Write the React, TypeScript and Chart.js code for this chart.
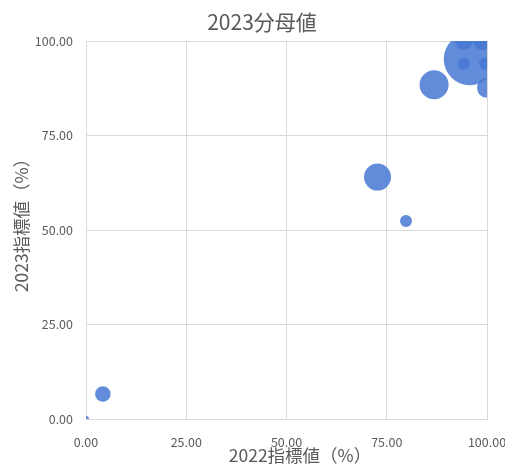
import React, { useEffect, useRef } from "react";
import { Chart, registerables } from "chart.js";

Chart.register(...registerables);

const chartTitle = "2023分母値";
const xAxisTitle = "2022指標値（%）";
const yAxisTitle = "2023指標値（%）";

// 2022 indicator value (%)
const xValues = [0, 4.2, 72.7, 79.8, 86.8, 95.7, 94.2, 99.5, 100, 94.2, 98.8];
// 2023 indicator value (%)
const yValues = [0, 6.6, 64, 52.4, 88.4, 95.2, 94, 94, 87.6, 100, 100];
// bubble radius (px) representing 2023 denominator
const bubbleRadii = [3, 7.8, 13.5, 6, 14.5, 26, 6, 6, 10, 9, 9];

const axisTicks = [0, 25, 50, 75, 100];

const FONT = "'Noto Sans CJK JP', 'Noto Sans', sans-serif";
const TEXT = "#595959";
const GRID = "#d9d9d9";

const titlesPlugin = {
  id: "customTitles",
  afterDraw(chart: any) {
    const { ctx } = chart;
    ctx.save();
    ctx.fillStyle = TEXT;
    ctx.textAlign = "center";
    ctx.textBaseline = "middle";
    ctx.font = `21px ${FONT}`;
    ctx.fillText(chartTitle, 262, 22);
    ctx.font = `17.5px ${FONT}`;
    ctx.fillText(xAxisTitle, 300, 455);
    ctx.translate(21, 221);
    ctx.rotate(-Math.PI / 2);
    ctx.fillText(yAxisTitle, 0, 0);
    ctx.restore();
  },
};

export default function App() {
  const ref = useRef<HTMLCanvasElement>(null);
  useEffect(() => {
    if (!ref.current) return;
    const points = xValues.map((x, i) => ({ x, y: yValues[i], r: bubbleRadii[i] }));
    const chart = new Chart(ref.current, {
      type: "bubble",
      data: {
        datasets: [
          {
            label: chartTitle,
            data: points,
            backgroundColor: "rgba(70,120,212,0.85)",
            borderWidth: 0,
          },
        ],
      },
      options: {
        responsive: false,
        animation: false,
        layout: { autoPadding: false, padding: { top: 41, right: 0, left: 0, bottom: 0 } },
        plugins: {
          legend: { display: false },
          title: { display: false },
          tooltip: { enabled: false },
        },
        scales: {
          x: {
            type: "linear",
            min: 0,
            max: 100,
            afterFit: (s: any) => {
              s.height = 45;
              s.paddingRight = 18;
              s.paddingLeft = 0;
            },
            afterBuildTicks: (s: any) => {
              s.ticks = axisTicks.map((v) => ({ value: v }));
            },
            ticks: {
              color: TEXT,
              font: { family: FONT, size: 12.5 },
              padding: 16,
              maxRotation: 0,
              callback: (v: any) => Number(v).toFixed(2),
            },
            grid: { color: GRID, drawTicks: false },
            border: { color: GRID },
          },
          y: {
            type: "linear",
            min: 0,
            max: 100,
            afterFit: (s: any) => {
              s.width = 86;
            },
            afterBuildTicks: (s: any) => {
              s.ticks = axisTicks.map((v) => ({ value: v }));
            },
            ticks: {
              color: TEXT,
              font: { family: FONT, size: 12.5 },
              padding: 13,
              callback: (v: any) => Number(v).toFixed(2),
            },
            grid: { color: GRID, drawTicks: false },
            border: { color: GRID },
          },
        },
      },
      plugins: [titlesPlugin],
    });
    return () => chart.destroy();
  }, []);
  return (
    <div style={{ position: "absolute", left: 0, top: 0, width: 505, height: 464, background: "#fff" }}>
      <canvas ref={ref} width={505} height={464} />
    </div>
  );
}
